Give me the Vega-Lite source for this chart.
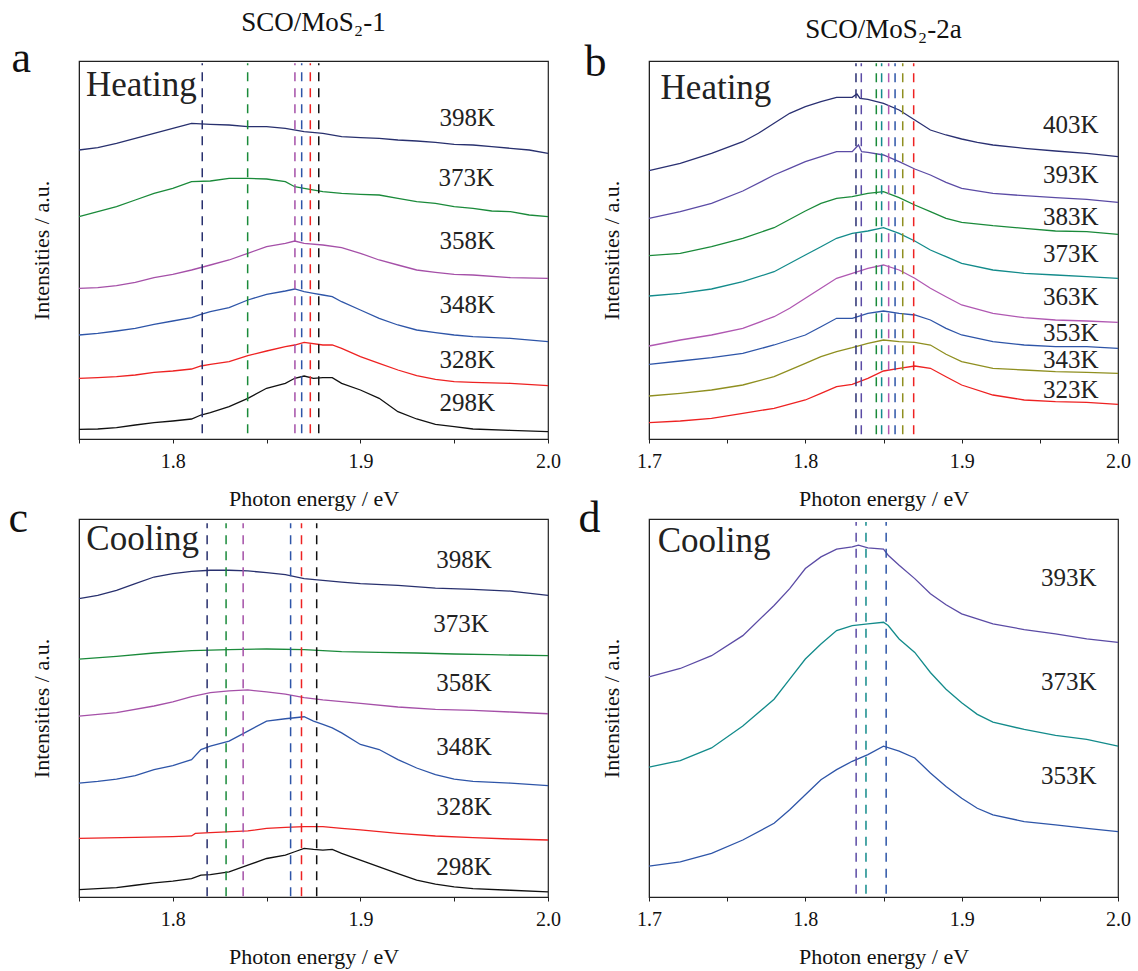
{
"$schema": "https://vega.github.io/schema/vega-lite/v6.json",
"padding": {"left": 7, "top": 8, "right": 5, "bottom": 5},
"background": "white",
"config": {
  "font": "Liberation Serif",
  "view": {"stroke": "#222", "strokeWidth": 1.2},
  "axis": {"labelFont": "Liberation Serif", "titleFont": "Liberation Serif", "labelFontSize": 20, "titleFontSize": 22, "titleFontWeight": "normal", "labelColor": "#111", "titleColor": "#111", "domainColor": "#222", "tickColor": "#222", "grid": false},
  "text": {"font": "Liberation Serif"},
  "title": {"font": "Liberation Serif", "fontSize": 27, "fontWeight": "normal", "anchor": "middle", "frame": "group", "baseline": "alphabetic", "color": "#111"}
},
"resolve": {"scale": {"color": "independent"}},
"datasets": {
  "a": [
    {"T":"298K","e":1.75,"i":9.7},{"T":"298K","e":1.76,"i":10},{"T":"298K","e":1.77,"i":11.3},{"T":"298K","e":1.78,"i":14},{"T":"298K","e":1.79,"i":16.3},{"T":"298K","e":1.8,"i":18},{"T":"298K","e":1.81,"i":20},{"T":"298K","e":1.815,"i":24},{"T":"298K","e":1.82,"i":26.3},{"T":"298K","e":1.83,"i":32.3},{"T":"298K","e":1.84,"i":40.7},{"T":"298K","e":1.85,"i":50.7},{"T":"298K","e":1.86,"i":55.7},{"T":"298K","e":1.865,"i":60.7},{"T":"298K","e":1.87,"i":63},{"T":"298K","e":1.875,"i":60.7},{"T":"298K","e":1.88,"i":61.3},{"T":"298K","e":1.885,"i":61.3},{"T":"298K","e":1.89,"i":55.7},{"T":"298K","e":1.9,"i":49},{"T":"298K","e":1.91,"i":40.7},{"T":"298K","e":1.92,"i":27.3},{"T":"298K","e":1.93,"i":20},{"T":"298K","e":1.94,"i":14.7},{"T":"298K","e":1.95,"i":12.3},{"T":"298K","e":1.96,"i":10},{"T":"298K","e":1.98,"i":8.7},{"T":"298K","e":2.0,"i":7.3},
    {"T":"328K","e":1.75,"i":60.7},{"T":"328K","e":1.76,"i":61.3},{"T":"328K","e":1.77,"i":62.3},{"T":"328K","e":1.78,"i":64},{"T":"328K","e":1.79,"i":66.7},{"T":"328K","e":1.8,"i":68},{"T":"328K","e":1.81,"i":70},{"T":"328K","e":1.815,"i":73},{"T":"328K","e":1.82,"i":74.7},{"T":"328K","e":1.83,"i":77.3},{"T":"328K","e":1.84,"i":83.3},{"T":"328K","e":1.85,"i":88},{"T":"328K","e":1.86,"i":92.3},{"T":"328K","e":1.865,"i":94},{"T":"328K","e":1.87,"i":96.7},{"T":"328K","e":1.88,"i":94},{"T":"328K","e":1.885,"i":94},{"T":"328K","e":1.89,"i":90.7},{"T":"328K","e":1.9,"i":82.3},{"T":"328K","e":1.91,"i":75.7},{"T":"328K","e":1.92,"i":69},{"T":"328K","e":1.93,"i":63.3},{"T":"328K","e":1.94,"i":59.7},{"T":"328K","e":1.95,"i":57.3},{"T":"328K","e":1.96,"i":56.7},{"T":"328K","e":1.98,"i":55.7},{"T":"328K","e":2.0,"i":53.3},
    {"T":"348K","e":1.75,"i":104},{"T":"348K","e":1.76,"i":105.7},{"T":"348K","e":1.77,"i":108},{"T":"348K","e":1.78,"i":110.7},{"T":"348K","e":1.79,"i":114.7},{"T":"348K","e":1.8,"i":118},{"T":"348K","e":1.81,"i":121.3},{"T":"348K","e":1.815,"i":124.7},{"T":"348K","e":1.82,"i":127.3},{"T":"348K","e":1.83,"i":131.3},{"T":"348K","e":1.84,"i":139},{"T":"348K","e":1.85,"i":144.7},{"T":"348K","e":1.86,"i":148},{"T":"348K","e":1.865,"i":150},{"T":"348K","e":1.87,"i":147.3},{"T":"348K","e":1.875,"i":145.7},{"T":"348K","e":1.88,"i":144},{"T":"348K","e":1.885,"i":142.3},{"T":"348K","e":1.89,"i":137.3},{"T":"348K","e":1.9,"i":129},{"T":"348K","e":1.91,"i":120.7},{"T":"348K","e":1.92,"i":114},{"T":"348K","e":1.93,"i":109},{"T":"348K","e":1.94,"i":106.3},{"T":"348K","e":1.95,"i":104},{"T":"348K","e":1.96,"i":102.3},{"T":"348K","e":1.98,"i":100.7},{"T":"348K","e":2.0,"i":97.3},
    {"T":"358K","e":1.75,"i":150.7},{"T":"358K","e":1.76,"i":151.3},{"T":"358K","e":1.77,"i":153.3},{"T":"358K","e":1.78,"i":156.7},{"T":"358K","e":1.79,"i":161.3},{"T":"358K","e":1.8,"i":164.7},{"T":"358K","e":1.81,"i":169},{"T":"358K","e":1.82,"i":174},{"T":"358K","e":1.83,"i":179},{"T":"358K","e":1.84,"i":185.7},{"T":"358K","e":1.85,"i":192.3},{"T":"358K","e":1.86,"i":195.7},{"T":"358K","e":1.865,"i":198},{"T":"358K","e":1.87,"i":195.7},{"T":"358K","e":1.88,"i":194},{"T":"358K","e":1.89,"i":191.3},{"T":"358K","e":1.9,"i":185.7},{"T":"358K","e":1.91,"i":179},{"T":"358K","e":1.92,"i":174},{"T":"358K","e":1.93,"i":169},{"T":"358K","e":1.94,"i":166.7},{"T":"358K","e":1.95,"i":164.7},{"T":"358K","e":1.96,"i":164},{"T":"358K","e":1.98,"i":161.3},{"T":"358K","e":2.0,"i":160.7},
    {"T":"373K","e":1.75,"i":222.3},{"T":"373K","e":1.76,"i":227.3},{"T":"373K","e":1.77,"i":232.3},{"T":"373K","e":1.78,"i":239},{"T":"373K","e":1.79,"i":245.7},{"T":"373K","e":1.8,"i":250.7},{"T":"373K","e":1.81,"i":257.3},{"T":"373K","e":1.82,"i":258},{"T":"373K","e":1.83,"i":260.7},{"T":"373K","e":1.84,"i":260.7},{"T":"373K","e":1.85,"i":260},{"T":"373K","e":1.86,"i":257.3},{"T":"373K","e":1.865,"i":252.3},{"T":"373K","e":1.87,"i":250.7},{"T":"373K","e":1.88,"i":247.3},{"T":"373K","e":1.89,"i":245.7},{"T":"373K","e":1.9,"i":244.7},{"T":"373K","e":1.91,"i":244},{"T":"373K","e":1.92,"i":240.7},{"T":"373K","e":1.93,"i":237.3},{"T":"373K","e":1.94,"i":235.7},{"T":"373K","e":1.95,"i":232.3},{"T":"373K","e":1.96,"i":230.7},{"T":"373K","e":1.97,"i":228},{"T":"373K","e":1.98,"i":227.3},{"T":"373K","e":1.99,"i":224},{"T":"373K","e":2.0,"i":222.3},
    {"T":"398K","e":1.75,"i":289},{"T":"398K","e":1.76,"i":291.3},{"T":"398K","e":1.77,"i":295.7},{"T":"398K","e":1.78,"i":300.7},{"T":"398K","e":1.79,"i":305.7},{"T":"398K","e":1.8,"i":310.7},{"T":"398K","e":1.81,"i":315.7},{"T":"398K","e":1.82,"i":314.7},{"T":"398K","e":1.83,"i":314},{"T":"398K","e":1.84,"i":312.3},{"T":"398K","e":1.85,"i":312.3},{"T":"398K","e":1.86,"i":310.7},{"T":"398K","e":1.87,"i":307.3},{"T":"398K","e":1.88,"i":305.7},{"T":"398K","e":1.89,"i":302.3},{"T":"398K","e":1.9,"i":301.3},{"T":"398K","e":1.91,"i":300.7},{"T":"398K","e":1.92,"i":299},{"T":"398K","e":1.93,"i":298},{"T":"398K","e":1.94,"i":296.7},{"T":"398K","e":1.95,"i":294.7},{"T":"398K","e":1.96,"i":294},{"T":"398K","e":1.97,"i":292.3},{"T":"398K","e":1.98,"i":290.7},{"T":"398K","e":1.99,"i":289},{"T":"398K","e":2.0,"i":285.7}
  ],
  "a_peak": [{"T":"398K","e":1.8157},{"T":"373K","e":1.8399},{"T":"358K","e":1.8651},{"T":"348K","e":1.8687},{"T":"328K","e":1.8733},{"T":"298K","e":1.8778}],
  "a_lab": [{"T":"398K","e":1.957,"i":320.7},{"T":"373K","e":1.9564,"i":260.7},{"T":"358K","e":1.957,"i":198},{"T":"348K","e":1.957,"i":134},{"T":"328K","e":1.957,"i":79},{"T":"298K","e":1.957,"i":36.3}],
  "a_txt": [{"s":"Heating","e":1.7537,"i":343.4}],
  "b": [
    {"T":"403K","e":1.7,"i":268.3},{"T":"403K","e":1.72,"i":275.7},{"T":"403K","e":1.74,"i":285.7},{"T":"403K","e":1.76,"i":297.3},{"T":"403K","e":1.77,"i":305.7},{"T":"403K","e":1.78,"i":315.7},{"T":"403K","e":1.79,"i":325.7},{"T":"403K","e":1.8,"i":332.3},{"T":"403K","e":1.81,"i":337.3},{"T":"403K","e":1.82,"i":341.7},{"T":"403K","e":1.83,"i":341.7},{"T":"403K","e":1.833,"i":345},{"T":"403K","e":1.835,"i":340.7},{"T":"403K","e":1.84,"i":339.7},{"T":"403K","e":1.85,"i":335.7},{"T":"403K","e":1.86,"i":329},{"T":"403K","e":1.87,"i":319},{"T":"403K","e":1.88,"i":309},{"T":"403K","e":1.89,"i":304},{"T":"403K","e":1.9,"i":300},{"T":"403K","e":1.91,"i":296.7},{"T":"403K","e":1.92,"i":294},{"T":"403K","e":1.94,"i":290.7},{"T":"403K","e":1.96,"i":288},{"T":"403K","e":1.98,"i":285.7},{"T":"403K","e":2.0,"i":282.3},
    {"T":"393K","e":1.7,"i":220.7},{"T":"393K","e":1.72,"i":227.3},{"T":"393K","e":1.74,"i":235.7},{"T":"393K","e":1.76,"i":248},{"T":"393K","e":1.78,"i":264},{"T":"393K","e":1.79,"i":270.7},{"T":"393K","e":1.8,"i":277.3},{"T":"393K","e":1.81,"i":282.3},{"T":"393K","e":1.82,"i":287.3},{"T":"393K","e":1.83,"i":287.3},{"T":"393K","e":1.834,"i":294},{"T":"393K","e":1.836,"i":287.3},{"T":"393K","e":1.84,"i":286.7},{"T":"393K","e":1.85,"i":284},{"T":"393K","e":1.86,"i":277.3},{"T":"393K","e":1.87,"i":270},{"T":"393K","e":1.88,"i":264},{"T":"393K","e":1.89,"i":256.7},{"T":"393K","e":1.9,"i":250.7},{"T":"393K","e":1.92,"i":245.7},{"T":"393K","e":1.94,"i":243.3},{"T":"393K","e":1.96,"i":241.3},{"T":"393K","e":1.98,"i":239.7},{"T":"393K","e":2.0,"i":236.7},
    {"T":"383K","e":1.7,"i":183.3},{"T":"383K","e":1.72,"i":185.7},{"T":"383K","e":1.74,"i":192.3},{"T":"383K","e":1.76,"i":200.7},{"T":"383K","e":1.78,"i":211.3},{"T":"383K","e":1.8,"i":228},{"T":"383K","e":1.81,"i":235.7},{"T":"383K","e":1.82,"i":240.7},{"T":"383K","e":1.83,"i":242.3},{"T":"383K","e":1.84,"i":245.7},{"T":"383K","e":1.85,"i":247.3},{"T":"383K","e":1.86,"i":241.3},{"T":"383K","e":1.87,"i":234},{"T":"383K","e":1.88,"i":227.3},{"T":"383K","e":1.89,"i":220.7},{"T":"383K","e":1.9,"i":216.7},{"T":"383K","e":1.92,"i":213.3},{"T":"383K","e":1.94,"i":210.7},{"T":"383K","e":1.96,"i":208},{"T":"383K","e":1.98,"i":207.3},{"T":"383K","e":2.0,"i":204.7},
    {"T":"373K","e":1.7,"i":143},{"T":"373K","e":1.72,"i":145.7},{"T":"373K","e":1.74,"i":150},{"T":"373K","e":1.76,"i":157.3},{"T":"373K","e":1.78,"i":167.3},{"T":"373K","e":1.8,"i":184},{"T":"373K","e":1.81,"i":192.3},{"T":"373K","e":1.82,"i":200.7},{"T":"373K","e":1.83,"i":205.7},{"T":"373K","e":1.84,"i":208},{"T":"373K","e":1.85,"i":211.3},{"T":"373K","e":1.86,"i":205.7},{"T":"373K","e":1.87,"i":198},{"T":"373K","e":1.88,"i":189},{"T":"373K","e":1.89,"i":182.3},{"T":"373K","e":1.9,"i":175.7},{"T":"373K","e":1.92,"i":169},{"T":"373K","e":1.94,"i":165.7},{"T":"373K","e":1.96,"i":164},{"T":"373K","e":1.98,"i":162.3},{"T":"373K","e":2.0,"i":160.7},
    {"T":"363K","e":1.7,"i":93},{"T":"363K","e":1.72,"i":99},{"T":"363K","e":1.74,"i":104},{"T":"363K","e":1.76,"i":110.7},{"T":"363K","e":1.78,"i":122.3},{"T":"363K","e":1.79,"i":130.7},{"T":"363K","e":1.8,"i":140.7},{"T":"363K","e":1.81,"i":150.7},{"T":"363K","e":1.82,"i":160.7},{"T":"363K","e":1.83,"i":165.7},{"T":"363K","e":1.84,"i":170.7},{"T":"363K","e":1.85,"i":174},{"T":"363K","e":1.86,"i":169},{"T":"363K","e":1.87,"i":160.7},{"T":"363K","e":1.88,"i":150.7},{"T":"363K","e":1.89,"i":142.3},{"T":"363K","e":1.9,"i":134},{"T":"363K","e":1.92,"i":125.7},{"T":"363K","e":1.94,"i":121.3},{"T":"363K","e":1.96,"i":119},{"T":"363K","e":1.98,"i":118},{"T":"363K","e":2.0,"i":116.7},
    {"T":"353K","e":1.7,"i":74.7},{"T":"353K","e":1.72,"i":78},{"T":"353K","e":1.74,"i":81.3},{"T":"353K","e":1.76,"i":85.7},{"T":"353K","e":1.78,"i":94},{"T":"353K","e":1.8,"i":104},{"T":"353K","e":1.81,"i":112.3},{"T":"353K","e":1.82,"i":120.7},{"T":"353K","e":1.83,"i":120.7},{"T":"353K","e":1.84,"i":125.7},{"T":"353K","e":1.85,"i":128},{"T":"353K","e":1.86,"i":125.7},{"T":"353K","e":1.87,"i":124},{"T":"353K","e":1.88,"i":119},{"T":"353K","e":1.89,"i":110.7},{"T":"353K","e":1.9,"i":104},{"T":"353K","e":1.92,"i":97.3},{"T":"353K","e":1.94,"i":94},{"T":"353K","e":1.96,"i":92.3},{"T":"353K","e":1.98,"i":92.3},{"T":"353K","e":2.0,"i":90.7},
    {"T":"343K","e":1.7,"i":43},{"T":"343K","e":1.72,"i":45.7},{"T":"343K","e":1.74,"i":49},{"T":"343K","e":1.76,"i":54},{"T":"343K","e":1.78,"i":62.3},{"T":"343K","e":1.8,"i":75.7},{"T":"343K","e":1.81,"i":82.3},{"T":"343K","e":1.82,"i":87.3},{"T":"343K","e":1.83,"i":91.3},{"T":"343K","e":1.84,"i":95.7},{"T":"343K","e":1.85,"i":99},{"T":"343K","e":1.86,"i":97.3},{"T":"343K","e":1.87,"i":96.7},{"T":"343K","e":1.88,"i":94},{"T":"343K","e":1.89,"i":84.7},{"T":"343K","e":1.9,"i":77.3},{"T":"343K","e":1.92,"i":70.7},{"T":"343K","e":1.94,"i":69},{"T":"343K","e":1.96,"i":67.3},{"T":"343K","e":1.98,"i":66.7},{"T":"343K","e":2.0,"i":65.7},
    {"T":"323K","e":1.7,"i":16.3},{"T":"323K","e":1.72,"i":18},{"T":"323K","e":1.74,"i":20.7},{"T":"323K","e":1.76,"i":25.7},{"T":"323K","e":1.78,"i":30.7},{"T":"323K","e":1.8,"i":39},{"T":"323K","e":1.81,"i":45.7},{"T":"323K","e":1.82,"i":52.3},{"T":"323K","e":1.83,"i":54.7},{"T":"323K","e":1.84,"i":60.7},{"T":"323K","e":1.85,"i":68},{"T":"323K","e":1.86,"i":70.7},{"T":"323K","e":1.87,"i":73},{"T":"323K","e":1.88,"i":70.7},{"T":"323K","e":1.89,"i":62.3},{"T":"323K","e":1.9,"i":54},{"T":"323K","e":1.92,"i":44},{"T":"323K","e":1.94,"i":39},{"T":"323K","e":1.96,"i":37.3},{"T":"323K","e":1.98,"i":36.7},{"T":"323K","e":2.0,"i":34.7}
  ],
  "b_peak": [{"T":"403K","e":1.8324},{"T":"393K","e":1.8358},{"T":"383K","e":1.8454},{"T":"373K","e":1.8488},{"T":"363K","e":1.8533},{"T":"353K","e":1.8574},{"T":"343K","e":1.8623},{"T":"323K","e":1.8693}],
  "b_lab": [{"T":"403K","e":1.9698,"i":314},{"T":"393K","e":1.9698,"i":264},{"T":"383K","e":1.9698,"i":222.3},{"T":"373K","e":1.9698,"i":184.7},{"T":"363K","e":1.9698,"i":142.3},{"T":"353K","e":1.9698,"i":105.7},{"T":"343K","e":1.9698,"i":79},{"T":"323K","e":1.9698,"i":49}],
  "b_txt": [{"s":"Heating","e":1.7074,"i":339.7}],
  "c": [
    {"T":"298K","e":1.75,"i":7.3},{"T":"298K","e":1.76,"i":8.3},{"T":"298K","e":1.77,"i":9.3},{"T":"298K","e":1.78,"i":11.7},{"T":"298K","e":1.79,"i":14},{"T":"298K","e":1.8,"i":15.7},{"T":"298K","e":1.81,"i":18.3},{"T":"298K","e":1.815,"i":21.7},{"T":"298K","e":1.82,"i":22.3},{"T":"298K","e":1.83,"i":25},{"T":"298K","e":1.84,"i":31.7},{"T":"298K","e":1.85,"i":38.3},{"T":"298K","e":1.86,"i":41.7},{"T":"298K","e":1.865,"i":45},{"T":"298K","e":1.87,"i":48.3},{"T":"298K","e":1.875,"i":47.3},{"T":"298K","e":1.88,"i":46.7},{"T":"298K","e":1.885,"i":47.3},{"T":"298K","e":1.89,"i":43.3},{"T":"298K","e":1.9,"i":36.7},{"T":"298K","e":1.91,"i":30},{"T":"298K","e":1.92,"i":23.3},{"T":"298K","e":1.93,"i":16.7},{"T":"298K","e":1.94,"i":12.7},{"T":"298K","e":1.95,"i":10},{"T":"298K","e":1.96,"i":8.3},{"T":"298K","e":1.98,"i":6.7},{"T":"298K","e":2.0,"i":5},
    {"T":"328K","e":1.75,"i":58.3},{"T":"328K","e":1.78,"i":59.3},{"T":"328K","e":1.8,"i":60},{"T":"328K","e":1.81,"i":60.7},{"T":"328K","e":1.812,"i":63.3},{"T":"328K","e":1.82,"i":64},{"T":"328K","e":1.84,"i":65.7},{"T":"328K","e":1.85,"i":68.3},{"T":"328K","e":1.86,"i":69.3},{"T":"328K","e":1.87,"i":70},{"T":"328K","e":1.88,"i":70},{"T":"328K","e":1.89,"i":68.3},{"T":"328K","e":1.9,"i":66.7},{"T":"328K","e":1.92,"i":63.3},{"T":"328K","e":1.94,"i":60.7},{"T":"328K","e":1.96,"i":59},{"T":"328K","e":1.98,"i":57.7},{"T":"328K","e":2.0,"i":56.7},
    {"T":"348K","e":1.75,"i":113.3},{"T":"348K","e":1.76,"i":115},{"T":"348K","e":1.77,"i":117.3},{"T":"348K","e":1.78,"i":120.7},{"T":"348K","e":1.79,"i":126.7},{"T":"348K","e":1.8,"i":130.7},{"T":"348K","e":1.81,"i":136.7},{"T":"348K","e":1.815,"i":146.7},{"T":"348K","e":1.82,"i":150},{"T":"348K","e":1.83,"i":155},{"T":"348K","e":1.84,"i":165},{"T":"348K","e":1.85,"i":175},{"T":"348K","e":1.86,"i":177.3},{"T":"348K","e":1.865,"i":178.3},{"T":"348K","e":1.87,"i":179.3},{"T":"348K","e":1.875,"i":175},{"T":"348K","e":1.88,"i":171.7},{"T":"348K","e":1.885,"i":168.3},{"T":"348K","e":1.89,"i":163.3},{"T":"348K","e":1.9,"i":151.7},{"T":"348K","e":1.91,"i":146.7},{"T":"348K","e":1.92,"i":136.7},{"T":"348K","e":1.93,"i":128.3},{"T":"348K","e":1.94,"i":121.7},{"T":"348K","e":1.95,"i":117.3},{"T":"348K","e":1.96,"i":115},{"T":"348K","e":1.98,"i":113.3},{"T":"348K","e":2.0,"i":110.7},
    {"T":"358K","e":1.75,"i":180},{"T":"358K","e":1.77,"i":183.3},{"T":"358K","e":1.79,"i":190},{"T":"358K","e":1.8,"i":194},{"T":"358K","e":1.81,"i":199.3},{"T":"358K","e":1.82,"i":203.3},{"T":"358K","e":1.83,"i":205},{"T":"358K","e":1.84,"i":206},{"T":"358K","e":1.85,"i":204},{"T":"358K","e":1.86,"i":201.7},{"T":"358K","e":1.87,"i":198.3},{"T":"358K","e":1.88,"i":196},{"T":"358K","e":1.9,"i":192.7},{"T":"358K","e":1.92,"i":189},{"T":"358K","e":1.94,"i":186.7},{"T":"358K","e":1.96,"i":185.7},{"T":"358K","e":1.98,"i":184},{"T":"358K","e":2.0,"i":182.3},
    {"T":"373K","e":1.75,"i":236.7},{"T":"373K","e":1.77,"i":239.3},{"T":"373K","e":1.79,"i":242.7},{"T":"373K","e":1.81,"i":245},{"T":"373K","e":1.83,"i":246},{"T":"373K","e":1.85,"i":246.7},{"T":"373K","e":1.87,"i":246},{"T":"373K","e":1.89,"i":244},{"T":"373K","e":1.91,"i":243.3},{"T":"373K","e":1.93,"i":242.7},{"T":"373K","e":1.95,"i":241.7},{"T":"373K","e":1.97,"i":241},{"T":"373K","e":2.0,"i":240},
    {"T":"398K","e":1.75,"i":296.7},{"T":"398K","e":1.76,"i":300},{"T":"398K","e":1.77,"i":305},{"T":"398K","e":1.78,"i":311.7},{"T":"398K","e":1.79,"i":318.3},{"T":"398K","e":1.8,"i":321.7},{"T":"398K","e":1.81,"i":324},{"T":"398K","e":1.82,"i":325},{"T":"398K","e":1.83,"i":325},{"T":"398K","e":1.84,"i":324.3},{"T":"398K","e":1.85,"i":322.7},{"T":"398K","e":1.86,"i":320.7},{"T":"398K","e":1.87,"i":316.7},{"T":"398K","e":1.88,"i":315},{"T":"398K","e":1.89,"i":313.3},{"T":"398K","e":1.9,"i":311.7},{"T":"398K","e":1.92,"i":310},{"T":"398K","e":1.94,"i":307.3},{"T":"398K","e":1.96,"i":306},{"T":"398K","e":1.98,"i":304.3},{"T":"398K","e":2.0,"i":300}
  ],
  "c_peak": [{"T":"398K","e":1.8183},{"T":"373K","e":1.8284},{"T":"358K","e":1.8375},{"T":"348K","e":1.8628},{"T":"328K","e":1.8686},{"T":"298K","e":1.8767}],
  "c_lab": [{"T":"398K","e":1.9553,"i":335.7},{"T":"373K","e":1.9537,"i":271.7},{"T":"358K","e":1.9553,"i":212.7},{"T":"348K","e":1.9553,"i":149},{"T":"328K","e":1.9553,"i":90},{"T":"298K","e":1.9553,"i":30}],
  "c_txt": [{"s":"Cooling","e":1.7539,"i":345}],
  "d": [
    {"T":"393K","e":1.7,"i":219},{"T":"393K","e":1.72,"i":227.3},{"T":"393K","e":1.74,"i":240},{"T":"393K","e":1.76,"i":260},{"T":"393K","e":1.78,"i":290},{"T":"393K","e":1.79,"i":306.7},{"T":"393K","e":1.8,"i":326.7},{"T":"393K","e":1.81,"i":338.3},{"T":"393K","e":1.82,"i":346},{"T":"393K","e":1.83,"i":348.3},{"T":"393K","e":1.834,"i":350},{"T":"393K","e":1.84,"i":347.3},{"T":"393K","e":1.85,"i":346},{"T":"393K","e":1.853,"i":340},{"T":"393K","e":1.86,"i":330},{"T":"393K","e":1.87,"i":316.7},{"T":"393K","e":1.88,"i":301.7},{"T":"393K","e":1.89,"i":290.7},{"T":"393K","e":1.9,"i":281.7},{"T":"393K","e":1.92,"i":271.7},{"T":"393K","e":1.94,"i":266},{"T":"393K","e":1.96,"i":261.7},{"T":"393K","e":1.98,"i":256.7},{"T":"393K","e":2.0,"i":253.3},
    {"T":"373K","e":1.7,"i":129.3},{"T":"373K","e":1.72,"i":135.7},{"T":"373K","e":1.74,"i":148.3},{"T":"373K","e":1.76,"i":170},{"T":"373K","e":1.78,"i":196.7},{"T":"373K","e":1.79,"i":216.7},{"T":"373K","e":1.8,"i":236.7},{"T":"373K","e":1.81,"i":251.7},{"T":"373K","e":1.82,"i":265},{"T":"373K","e":1.83,"i":270},{"T":"373K","e":1.84,"i":271.7},{"T":"373K","e":1.85,"i":273.3},{"T":"373K","e":1.853,"i":270},{"T":"373K","e":1.86,"i":256.7},{"T":"373K","e":1.87,"i":243.3},{"T":"373K","e":1.88,"i":223.3},{"T":"373K","e":1.89,"i":206.7},{"T":"373K","e":1.9,"i":193.3},{"T":"373K","e":1.91,"i":181.7},{"T":"373K","e":1.92,"i":174},{"T":"373K","e":1.94,"i":166.7},{"T":"373K","e":1.96,"i":160.7},{"T":"373K","e":1.98,"i":156.7},{"T":"373K","e":2.0,"i":150},
    {"T":"353K","e":1.7,"i":30.7},{"T":"353K","e":1.72,"i":35},{"T":"353K","e":1.74,"i":43.3},{"T":"353K","e":1.76,"i":56.7},{"T":"353K","e":1.78,"i":73.3},{"T":"353K","e":1.79,"i":86.7},{"T":"353K","e":1.8,"i":101.7},{"T":"353K","e":1.81,"i":116.7},{"T":"353K","e":1.82,"i":126.7},{"T":"353K","e":1.83,"i":135},{"T":"353K","e":1.84,"i":141.7},{"T":"353K","e":1.85,"i":150},{"T":"353K","e":1.86,"i":145},{"T":"353K","e":1.87,"i":138.3},{"T":"353K","e":1.88,"i":123.3},{"T":"353K","e":1.89,"i":110},{"T":"353K","e":1.9,"i":98.3},{"T":"353K","e":1.91,"i":88.3},{"T":"353K","e":1.92,"i":81.7},{"T":"353K","e":1.94,"i":75},{"T":"353K","e":1.96,"i":71.7},{"T":"353K","e":1.98,"i":68.3},{"T":"353K","e":2.0,"i":65}
  ],
  "d_peak": [{"T":"393K","e":1.8325},{"T":"373K","e":1.8388},{"T":"353K","e":1.8517}],
  "d_lab": [{"T":"393K","e":1.9685,"i":317.3},{"T":"373K","e":1.9685,"i":214.3},{"T":"353K","e":1.9685,"i":120}],
  "d_txt": [{"s":"Cooling","e":1.7056,"i":342.7}]
},
"columns": 2,
"bounds": "flush",
"spacing": {"row": 80, "column": 101},
"concat": [
  {
    "width": 469, "height": 378,
    "title": {"text": "SCO/MoS₂-1", "offset": -1},
    "resolve": {"axis": {"x": "independent", "y": "independent"}},
    "layer": [
      {"data": {"name": "a"}, "mark": {"type": "line", "strokeWidth": 1.3},
       "encoding": {
         "x": {"field": "e", "type": "quantitative", "scale": {"domain": [1.75, 2.0], "nice": false, "zero": false},
               "axis": {"orient": "bottom", "title": "Photon energy / eV", "values": [1.75, 1.8, 1.85, 1.9, 1.95, 2.0], "labelExpr": "round(datum.value*100) % 10 == 0 ? format(datum.value, '.1f') : ''", "tickSize": 4, "labelPadding": 8, "titlePadding": 17, "labelFlush": false, "labelOverlap": false, "labelFont": "Liberation Serif", "titleFont": "Liberation Serif"}},
         "y": {"field": "i", "type": "quantitative", "scale": {"domain": [0, 378], "nice": false, "zero": false},
               "axis": {"title": "Intensities / a.u.", "labels": false, "ticks": false, "titlePadding": 26, "titleFont": "Liberation Serif"}},
         "color": {"field": "T", "type": "nominal", "legend": null,
                   "scale": {"domain": ["398K", "373K", "358K", "348K", "328K", "298K"], "range": ["#28306e", "#1a8a3a", "#a550a8", "#2e55a8", "#ee2222", "#111111"]}}
       }},
      {"data": {"name": "a_peak"}, "mark": {"type": "rule", "strokeDash": [9, 7], "strokeWidth": 1.5},
       "encoding": {
         "x": {"field": "e", "type": "quantitative", "scale": {"domain": [1.75, 2.0], "nice": false, "zero": false},
               "axis": {"orient": "top", "domain": false, "ticks": false, "labels": false, "title": "a", "titleX": -68, "titleY": 10, "titleAlign": "left", "titleBaseline": "alphabetic", "titleAngle": 0, "titleFontSize": 44, "titleFont": "Liberation Serif"}},
         "y": {"datum": 5.7, "type": "quantitative", "axis": null},
         "y2": {"datum": 375.7},
         "color": {"field": "T", "type": "nominal", "legend": null}
       }},
      {"data": {"name": "a_lab"}, "mark": {"type": "text", "fontSize": 25, "font": "Liberation Serif", "color": "#222", "align": "center", "baseline": "middle"},
       "encoding": {
         "x": {"field": "e", "type": "quantitative", "axis": null},
         "y": {"field": "i", "type": "quantitative", "axis": null},
         "text": {"field": "T"}
       }},
      {"data": {"name": "a_txt"}, "mark": {"type": "text", "fontSize": 35, "font": "Liberation Serif", "color": "#222", "align": "left", "baseline": "alphabetic"},
       "encoding": {
         "x": {"field": "e", "type": "quantitative", "axis": null},
         "y": {"field": "i", "type": "quantitative", "axis": null},
         "text": {"field": "s"}
       }}
    ]
  },
  {
    "width": 469, "height": 378,
    "title": {"text": "SCO/MoS₂-2a", "offset": -4},
    "resolve": {"axis": {"x": "independent", "y": "independent"}},
    "layer": [
      {"data": {"name": "b"}, "mark": {"type": "line", "strokeWidth": 1.3},
       "encoding": {
         "x": {"field": "e", "type": "quantitative", "scale": {"domain": [1.7, 2.0], "nice": false, "zero": false},
               "axis": {"orient": "bottom", "title": "Photon energy / eV", "values": [1.7, 1.75, 1.8, 1.85, 1.9, 1.95, 2.0], "labelExpr": "round(datum.value*100) % 10 == 0 ? format(datum.value, '.1f') : ''", "tickSize": 4, "labelPadding": 8, "titlePadding": 17, "labelFlush": false, "labelOverlap": false, "labelFont": "Liberation Serif", "titleFont": "Liberation Serif"}},
         "y": {"field": "i", "type": "quantitative", "scale": {"domain": [0, 378], "nice": false, "zero": false},
               "axis": {"title": "Intensities / a.u.", "labels": false, "ticks": false, "titlePadding": 26, "titleFont": "Liberation Serif"}},
         "color": {"field": "T", "type": "nominal", "legend": null,
                   "scale": {"domain": ["403K", "393K", "383K", "373K", "363K", "353K", "343K", "323K"], "range": ["#2a3072", "#5b4ba5", "#1a8a3a", "#138b8b", "#b058b2", "#2e55a8", "#8f8f20", "#ee2222"]}}
       }},
      {"data": {"name": "b_peak"}, "mark": {"type": "rule", "strokeDash": [9, 7], "strokeWidth": 1.5},
       "encoding": {
         "x": {"field": "e", "type": "quantitative", "scale": {"domain": [1.7, 2.0], "nice": false, "zero": false},
               "axis": {"orient": "top", "domain": false, "ticks": false, "labels": false, "title": "b", "titleX": -65, "titleY": 14, "titleAlign": "left", "titleBaseline": "alphabetic", "titleAngle": 0, "titleFontSize": 44, "titleFont": "Liberation Serif"}},
         "y": {"datum": 4.7, "type": "quantitative", "axis": null},
         "y2": {"datum": 375.7},
         "color": {"field": "T", "type": "nominal", "legend": null}
       }},
      {"data": {"name": "b_lab"}, "mark": {"type": "text", "fontSize": 25, "font": "Liberation Serif", "color": "#222", "align": "center", "baseline": "middle"},
       "encoding": {
         "x": {"field": "e", "type": "quantitative", "axis": null},
         "y": {"field": "i", "type": "quantitative", "axis": null},
         "text": {"field": "T"}
       }},
      {"data": {"name": "b_txt"}, "mark": {"type": "text", "fontSize": 35, "font": "Liberation Serif", "color": "#222", "align": "left", "baseline": "alphabetic"},
       "encoding": {
         "x": {"field": "e", "type": "quantitative", "axis": null},
         "y": {"field": "i", "type": "quantitative", "axis": null},
         "text": {"field": "s"}
       }}
    ]
  },
  {
    "width": 469, "height": 378,
    "resolve": {"axis": {"x": "independent", "y": "independent"}},
    "layer": [
      {"data": {"name": "c"}, "mark": {"type": "line", "strokeWidth": 1.3},
       "encoding": {
         "x": {"field": "e", "type": "quantitative", "scale": {"domain": [1.75, 2.0], "nice": false, "zero": false},
               "axis": {"orient": "bottom", "title": "Photon energy / eV", "values": [1.75, 1.8, 1.85, 1.9, 1.95, 2.0], "labelExpr": "round(datum.value*100) % 10 == 0 ? format(datum.value, '.1f') : ''", "tickSize": 4, "labelPadding": 8, "titlePadding": 17, "labelFlush": false, "labelOverlap": false, "labelFont": "Liberation Serif", "titleFont": "Liberation Serif"}},
         "y": {"field": "i", "type": "quantitative", "scale": {"domain": [0, 376], "nice": false, "zero": false},
               "axis": {"title": "Intensities / a.u.", "labels": false, "ticks": false, "titlePadding": 26, "titleFont": "Liberation Serif"}},
         "color": {"field": "T", "type": "nominal", "legend": null,
                   "scale": {"domain": ["398K", "373K", "358K", "348K", "328K", "298K"], "range": ["#28306e", "#1a8a3a", "#a550a8", "#2e55a8", "#ee2222", "#111111"]}}
       }},
      {"data": {"name": "c_peak"}, "mark": {"type": "rule", "strokeDash": [9, 7], "strokeWidth": 1.5},
       "encoding": {
         "x": {"field": "e", "type": "quantitative", "scale": {"domain": [1.75, 2.0], "nice": false, "zero": false},
               "axis": {"orient": "top", "domain": false, "ticks": false, "labels": false, "title": "c", "titleX": -71, "titleY": 12, "titleAlign": "left", "titleBaseline": "alphabetic", "titleAngle": 0, "titleFontSize": 44, "titleFont": "Liberation Serif"}},
         "y": {"datum": 0.7, "type": "quantitative", "axis": null},
         "y2": {"datum": 371.7},
         "color": {"field": "T", "type": "nominal", "legend": null}
       }},
      {"data": {"name": "c_lab"}, "mark": {"type": "text", "fontSize": 25, "font": "Liberation Serif", "color": "#222", "align": "center", "baseline": "middle"},
       "encoding": {
         "x": {"field": "e", "type": "quantitative", "axis": null},
         "y": {"field": "i", "type": "quantitative", "axis": null},
         "text": {"field": "T"}
       }},
      {"data": {"name": "c_txt"}, "mark": {"type": "text", "fontSize": 35, "font": "Liberation Serif", "color": "#222", "align": "left", "baseline": "alphabetic"},
       "encoding": {
         "x": {"field": "e", "type": "quantitative", "axis": null},
         "y": {"field": "i", "type": "quantitative", "axis": null},
         "text": {"field": "s"}
       }}
    ]
  },
  {
    "width": 469, "height": 378,
    "resolve": {"axis": {"x": "independent", "y": "independent"}},
    "layer": [
      {"data": {"name": "d"}, "mark": {"type": "line", "strokeWidth": 1.3},
       "encoding": {
         "x": {"field": "e", "type": "quantitative", "scale": {"domain": [1.7, 2.0], "nice": false, "zero": false},
               "axis": {"orient": "bottom", "title": "Photon energy / eV", "values": [1.7, 1.75, 1.8, 1.85, 1.9, 1.95, 2.0], "labelExpr": "round(datum.value*100) % 10 == 0 ? format(datum.value, '.1f') : ''", "tickSize": 4, "labelPadding": 8, "titlePadding": 17, "labelFlush": false, "labelOverlap": false, "labelFont": "Liberation Serif", "titleFont": "Liberation Serif"}},
         "y": {"field": "i", "type": "quantitative", "scale": {"domain": [0, 376], "nice": false, "zero": false},
               "axis": {"title": "Intensities / a.u.", "labels": false, "ticks": false, "titlePadding": 26, "titleFont": "Liberation Serif"}},
         "color": {"field": "T", "type": "nominal", "legend": null,
                   "scale": {"domain": ["393K", "373K", "353K"], "range": ["#5b4ba5", "#138b8b", "#2e55a8"]}}
       }},
      {"data": {"name": "d_peak"}, "mark": {"type": "rule", "strokeDash": [9, 7], "strokeWidth": 1.5},
       "encoding": {
         "x": {"field": "e", "type": "quantitative", "scale": {"domain": [1.7, 2.0], "nice": false, "zero": false},
               "axis": {"orient": "top", "domain": false, "ticks": false, "labels": false, "title": "d", "titleX": -71, "titleY": 12, "titleAlign": "left", "titleBaseline": "alphabetic", "titleAngle": 0, "titleFontSize": 44, "titleFont": "Liberation Serif"}},
         "y": {"datum": 3.3, "type": "quantitative", "axis": null},
         "y2": {"datum": 373},
         "color": {"field": "T", "type": "nominal", "legend": null}
       }},
      {"data": {"name": "d_lab"}, "mark": {"type": "text", "fontSize": 25, "font": "Liberation Serif", "color": "#222", "align": "center", "baseline": "middle"},
       "encoding": {
         "x": {"field": "e", "type": "quantitative", "axis": null},
         "y": {"field": "i", "type": "quantitative", "axis": null},
         "text": {"field": "T"}
       }},
      {"data": {"name": "d_txt"}, "mark": {"type": "text", "fontSize": 35, "font": "Liberation Serif", "color": "#222", "align": "left", "baseline": "alphabetic"},
       "encoding": {
         "x": {"field": "e", "type": "quantitative", "axis": null},
         "y": {"field": "i", "type": "quantitative", "axis": null},
         "text": {"field": "s"}
       }}
    ]
  }
]
}
